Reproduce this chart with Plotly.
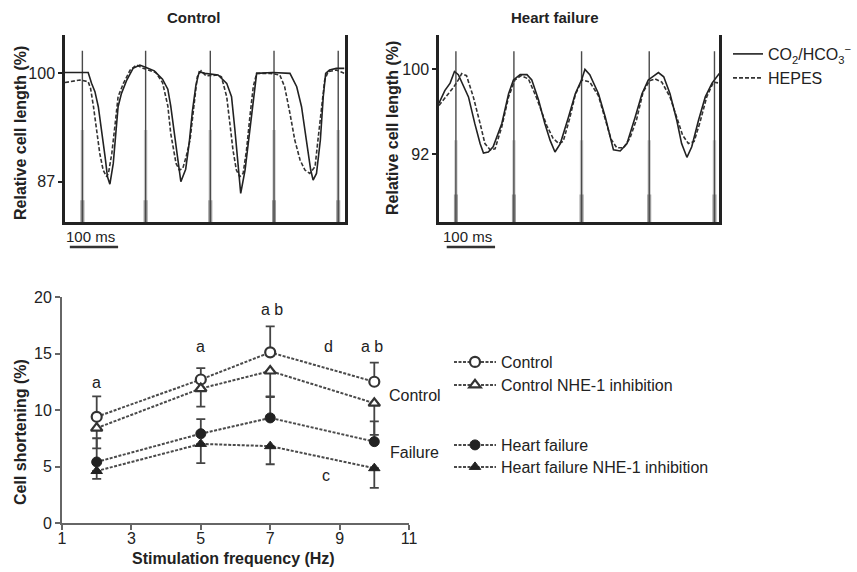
import plotly.graph_objects as go

W, H = 857, 572
FONT = "Liberation Sans, Arial, sans-serif"

# ---------------- data: top traces (time in ms, relative cell length in %) ----------------
ctl_t_co2 = [0, 48, 55, 62, 69, 76, 83, 88, 93, 100, 106, 110, 117, 128, 141, 155, 168, 185, 202, 213,
             219, 226, 233, 240, 250, 257, 264, 271, 278, 290, 305, 317, 335, 345, 352, 359, 364, 373, 383, 390,
             397, 430, 466, 480, 490, 500, 509, 514, 521, 529, 535, 540, 548, 562, 579]
ctl_v_co2 = [100.1, 100.1, 98.8, 97.8, 96.0, 93.2, 90.0, 87.6, 86.7, 89.2, 93.2, 96.0, 97.6, 99.2, 100.6, 101.0, 100.7, 100.3, 99.3, 98.1,
             96.1, 92.8, 90.0, 87.0, 88.5, 91.5, 95.5, 98.5, 100.2, 100.0, 99.9, 99.8, 98.8, 97.2, 93.2, 88.4, 85.6, 88.4, 93.2, 97.2,
             100.0, 100.1, 100.0, 98.4, 96.0, 92.0, 88.4, 87.2, 88.0, 92.0, 97.2, 100.0, 100.4, 100.6, 100.6]
ctl_t_hepes = [0, 31, 48, 53, 59, 66, 72, 79, 86, 90, 97, 104, 110, 121, 135, 148, 162, 188, 202, 213,
               219, 230, 237, 244, 251, 259, 266, 270, 274, 282, 292, 317, 324, 335, 342, 348, 355, 362, 369, 376,
               383, 390, 397, 425, 445, 455, 466, 476, 487, 497, 507, 518, 524, 531, 538, 545, 562, 579]
ctl_v_hepes = [98.9, 99.2, 99.0, 98.2, 96.0, 93.2, 90.4, 88.4, 87.6, 88.0, 90.4, 94.0, 97.2, 98.8, 100.4, 101.0, 100.6, 100.1, 98.9, 96.1,
               92.8, 89.2, 88.4, 88.6, 90.0, 92.0, 95.5, 97.5, 99.6, 100.3, 99.7, 99.8, 99.6, 97.2, 94.0, 90.8, 88.4, 87.6, 88.0, 90.8,
               94.8, 98.4, 100.0, 100.0, 99.8, 98.4, 95.2, 92.0, 89.6, 88.4, 88.0, 88.8, 92.0, 96.0, 99.2, 100.2, 100.4, 100.0]
ctl_stim = [36, 167, 301, 433, 566]

hf_t_co2 = [0, 12, 23, 32, 40, 61, 74, 85, 92, 102, 112, 130, 144, 154, 168, 182, 192, 206, 219, 230,
            240, 251, 268, 282, 295, 302, 312, 330, 344, 354, 361, 375, 389, 406, 420, 433, 454, 465, 478, 492,
            502, 513, 523, 537, 551, 565, 580]
hf_v_co2 = [96.8, 98.0, 98.7, 99.8, 99.5, 97.4, 94.9, 93.0, 92.1, 92.2, 92.7, 94.9, 97.7, 99.0, 99.5, 99.5, 99.0, 97.1, 94.9, 93.3,
            92.2, 93.0, 95.5, 97.7, 99.0, 100.0, 99.5, 97.7, 95.5, 93.6, 92.4, 92.3, 93.0, 95.5, 97.7, 99.0, 99.7, 99.3, 97.7, 95.2,
            93.0, 91.7, 92.7, 95.2, 97.4, 98.7, 99.6]
hf_t_hepes = [0, 15, 30, 40, 47, 57, 71, 85, 95, 106, 116, 130, 144, 157, 170, 185, 202, 223, 236, 248,
              257, 270, 282, 296, 312, 330, 344, 356, 368, 382, 395, 409, 422, 435, 447, 461, 478, 492, 504, 516,
              528, 540, 554, 568, 580]
hf_v_hepes = [96.6, 97.4, 98.3, 99.0, 99.6, 99.4, 97.4, 94.9, 93.0, 92.4, 92.5, 94.6, 97.4, 99.0, 99.4, 99.1, 97.3, 94.7, 93.5, 93.0,
              93.2, 95.3, 97.6, 99.0, 98.8, 97.5, 95.3, 93.4, 92.6, 92.6, 93.5, 95.3, 97.8, 98.9, 99.1, 98.8, 97.4, 95.4, 93.8, 93.0,
              93.2, 95.0, 97.4, 98.8, 98.7]
hf_stim = [35, 155, 295, 435, 570]

ctl_yticks = [87, 100]
hf_yticks = [92, 100]
scale_ms = 100

# ---------------- data: bottom chart ----------------
freq = [2, 5, 7, 10]
control = [9.4, 12.7, 15.1, 12.5]
control_err = [1.8, 1.0, 2.3, 1.7]          # upper
control_nhe = [8.4, 11.9, 13.45, 10.6]
control_nhe_err = [1.8, 1.6, 2.3, 2.8]      # lower
hf = [5.4, 7.9, 9.3, 7.2]
hf_err = [2.1, 1.3, 1.9, 1.8]               # upper
hf_nhe = [4.6, 7.0, 6.8, 4.85]
hf_nhe_err = [0.7, 1.7, 1.6, 1.75]          # lower
x_ticks = [1, 3, 5, 7, 9, 11]
y_ticks = [0, 5, 10, 15, 20]

sig_text = ["a", "a", "a b", "d", "a b", "c"]
sig_x = [2, 5, 7.04, 8.67, 9.94, 8.62]
sig_y = [12.4, 15.6, 18.9, 15.6, 15.6, 4.2]
group_text = ["Control", "Failure"]
group_x = [10.38, 10.4]
group_y = [11.25, 6.2]

# ---------------- helpers ----------------
def fx(p):
    return p / W

def fy(p):
    return 1 - p / H

def vsegs(xs, y0, y1):
    X, Y = [], []
    for x in xs:
        X += [x, x, None]
        Y += [y0, y1, None]
    return X, Y

fig = go.Figure()

CTL_YR = [82.17, 104.6]
HF_YR = [85.6, 103.24]

# stimulus marks
for stim, yr, xa, ya, top, grey_top in [(ctl_stim, CTL_YR, "x", "y", 102.7, 93.2),
                                         (hf_stim, HF_YR, "x2", "y2", 101.7, 93.3)]:
    X, Y = vsegs(stim, yr[0], grey_top)
    fig.add_trace(go.Scatter(x=X, y=Y, mode="lines", xaxis=xa, yaxis=ya, showlegend=False,
                             line=dict(color="#d2d2d2", width=3.5), hoverinfo="skip"))
    X, Y = vsegs(stim, yr[0], yr[0] + 2.6)
    fig.add_trace(go.Scatter(x=X, y=Y, mode="lines", xaxis=xa, yaxis=ya, showlegend=False,
                             line=dict(color="#9a9a9a", width=4), hoverinfo="skip"))
    X, Y = vsegs(stim, yr[0], top)
    fig.add_trace(go.Scatter(x=X, y=Y, mode="lines", xaxis=xa, yaxis=ya, showlegend=False,
                             line=dict(color="#4a4a4a", width=1.4), hoverinfo="skip"))

# traces
fig.add_trace(go.Scatter(x=ctl_t_hepes, y=ctl_v_hepes, mode="lines", xaxis="x", yaxis="y",
                         line=dict(color="#333", width=1.6, dash="4px,2px"), showlegend=False))
fig.add_trace(go.Scatter(x=ctl_t_co2, y=ctl_v_co2, mode="lines", xaxis="x", yaxis="y",
                         line=dict(color="#222", width=1.6), showlegend=False))
fig.add_trace(go.Scatter(x=hf_t_hepes, y=hf_v_hepes, mode="lines", xaxis="x2", yaxis="y2",
                         line=dict(color="#333", width=1.6, dash="4px,2px"), name="HEPES", legend="legend2"))
fig.add_trace(go.Scatter(x=hf_t_co2, y=hf_v_co2, mode="lines", xaxis="x2", yaxis="y2",
                         line=dict(color="#222", width=1.6), name="CO<sub>2</sub>/HCO<sub>3</sub><sup>−</sup>",
                         legend="legend"))

# bottom chart: error bars first
LINE = dict(color="#4a4a4a", width=2, dash="3px,1.5px")
EB = dict(type="data", symmetric=False, color="#444", thickness=1.8, width=4.5)
for ys, up, dn in [(control, control_err, [0] * 4), (control_nhe, [0] * 4, control_nhe_err),
                   (hf, hf_err, [0] * 4), (hf_nhe, [0] * 4, hf_nhe_err)]:
    fig.add_trace(go.Scatter(x=freq, y=ys, mode="markers", xaxis="x3", yaxis="y3", showlegend=False,
                             marker=dict(opacity=0, size=2), hoverinfo="skip",
                             error_y=dict(EB, array=up, arrayminus=dn)))

series = [
    (control, "Control", dict(symbol="circle", size=10, color="white", line=dict(color="#333", width=2.2)), "legend3"),
    (control_nhe, "Control NHE-1 inhibition", dict(symbol="triangle-up", size=10, color="white", line=dict(color="#333", width=2.2)), "legend4"),
    (hf, "Heart failure", dict(symbol="circle", size=10, color="#222", line=dict(color="#222", width=1)), "legend5"),
    (hf_nhe, "Heart failure NHE-1 inhibition", dict(symbol="triangle-up", size=10, color="#222", line=dict(color="#222", width=1)), "legend6"),
]
for ys, name, mk, lg in series:
    fig.add_trace(go.Scatter(x=freq, y=ys, mode="lines+markers", xaxis="x3", yaxis="y3", name=name,
                             line=LINE, marker=mk, legend=lg))

tickfont = dict(family=FONT, size=16, color="#222")
top_tickfont = dict(family=FONT, size=16, color="#222")

layout = dict(
    width=W, height=H, autosize=False,
    margin=dict(l=0, r=0, t=0, b=0, autoexpand=False),
    paper_bgcolor="white", plot_bgcolor="white",
    font=dict(family=FONT, size=16, color="#222"),
    xaxis=dict(domain=[fx(65), fx(344.5)], range=[0, 579], anchor="y", showline=True, linecolor="#222",
               linewidth=2.5, showgrid=False, zeroline=False, showticklabels=False, ticks=""),
    yaxis=dict(domain=[fy(222), fy(35)], range=CTL_YR, anchor="x", showline=True, mirror=True, linecolor="#222",
               linewidth=2.5, showgrid=False, zeroline=False, tickvals=ctl_yticks, ticks="outside", ticklen=4,
               tickwidth=1.5, tickcolor="#222", tickfont=top_tickfont),
    xaxis2=dict(domain=[fx(439), fx(719.3)], range=[0, 580], anchor="y2", showline=True, linecolor="#222",
                linewidth=2.5, showgrid=False, zeroline=False, showticklabels=False, ticks=""),
    yaxis2=dict(domain=[fy(222), fy(35)], range=HF_YR, anchor="x2", showline=True, mirror=True, linecolor="#222",
                linewidth=2.5, showgrid=False, zeroline=False, tickvals=hf_yticks, ticks="outside", ticklen=4,
                tickwidth=1.5, tickcolor="#222", tickfont=top_tickfont),
    xaxis3=dict(domain=[fx(62), fx(409)], range=[1, 11], anchor="y3", showline=True, linecolor="#666",
                linewidth=2, showgrid=False, zeroline=False, tickvals=x_ticks, ticks="outside", ticklen=5,
                tickwidth=2, tickcolor="#666", tickfont=tickfont, ticklabelstandoff=-5),
    yaxis3=dict(domain=[fy(523), fy(297)], range=[0, 20], anchor="x3", showline=True, linecolor="#666",
                linewidth=2, showgrid=False, zeroline=False, tickvals=y_ticks, ticks="outside", ticklen=5,
                tickwidth=2, tickcolor="#666", tickfont=tickfont),
)

leg_common = dict(xanchor="left", yanchor="middle", bgcolor="rgba(0,0,0,0)", borderwidth=0,
                  font=dict(family=FONT, size=16, color="#222"))
layout["legend"] = dict(leg_common, x=fx(728), y=fy(54))
layout["legend2"] = dict(leg_common, x=fx(728), y=fy(78))
for i, ypx in zip([3, 4, 5, 6], [362, 385, 445, 467]):
    layout[f"legend{i}"] = dict(leg_common, x=fx(449), y=fy(ypx), itemwidth=42)

fig.update_layout(**layout)

ann = []
C = dict(xref="paper", yref="paper", showarrow=False, xanchor="center", yanchor="middle")
# panel titles
ann.append(dict(C, text="<b>Control</b>", x=fx(193), y=fy(18), font=dict(size=15)))
ann.append(dict(C, text="<b>Heart failure</b>", x=fx(555), y=fy(18), font=dict(size=15)))
# y titles
for xp, yp, t in [(20, 133, "Relative cell length (%)"), (393, 128, "Relative cell length (%)"),
                  (20, 432, "Cell shortening (%)")]:
    ann.append(dict(C, text=f"<b>{t}</b>", x=fx(xp), y=fy(yp), textangle=-90, font=dict(size=16)))
ann.append(dict(C, text="<b>Stimulation frequency (Hz)</b>", x=fx(233), y=fy(558), font=dict(size=16)))

# scale bars
shapes = []
for xa, start in [("x", 10), ("x2", 16)]:
    shapes.append(dict(type="line", xref=xa, yref="paper", x0=start, x1=start + scale_ms,
                       y0=fy(247), y1=fy(247), line=dict(color="#333", width=2.5)))
    ann.append(dict(text=f"{scale_ms} ms", xref=xa, yref="paper", x=start + scale_ms / 2, y=fy(236),
                    xanchor="center", yanchor="middle", showarrow=False, xshift=-3, font=dict(size=15)))

# significance letters & group labels
for t, x, y in zip(sig_text, sig_x, sig_y):
    ann.append(dict(text=t, x=x, y=y, xref="x3", yref="y3", showarrow=False, xanchor="center",
                    yanchor="middle", font=dict(size=16)))
for t, x, y in zip(group_text, group_x, group_y):
    ann.append(dict(text=t, x=x, y=y, xref="x3", yref="y3", showarrow=False, xanchor="left",
                    yanchor="middle", font=dict(size=16)))

fig.update_layout(annotations=ann, shapes=shapes)
fig.write_html("out.html", config={"displayModeBar": False},
               post_script="document.body.style.margin='0';document.body.style.padding='0';")
